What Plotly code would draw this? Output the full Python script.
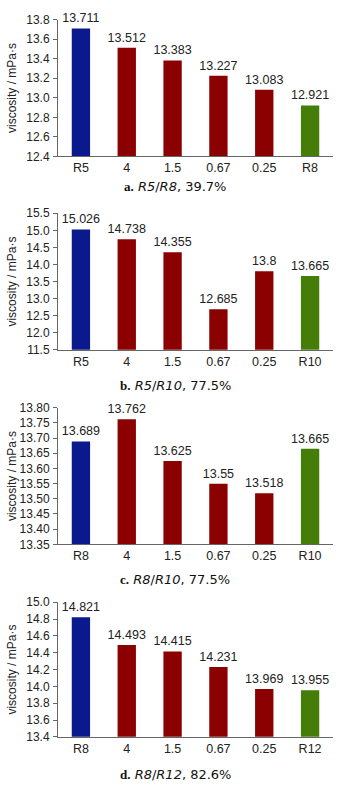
import plotly.graph_objects as go

# ---- data ----
cats_a = ["R5", "4", "1.5", "0.67", "0.25", "R8"]
vals_a = [13.711, 13.512, 13.383, 13.227, 13.083, 12.921]
cats_b = ["R5", "4", "1.5", "0.67", "0.25", "R10"]
vals_b = [15.026, 14.738, 14.355, 12.685, 13.8, 13.665]
cats_c = ["R8", "4", "1.5", "0.67", "0.25", "R10"]
vals_c = [13.689, 13.762, 13.625, 13.55, 13.518, 13.665]
cats_d = ["R8", "4", "1.5", "0.67", "0.25", "R12"]
vals_d = [14.821, 14.493, 14.415, 14.231, 13.969, 13.955]

captions = [
    ("a.", "R5", "R8", "39.7%"),
    ("b.", "R5", "R10", "77.5%"),
    ("c.", "R8", "R10", "77.5%"),
    ("d.", "R8", "R12", "82.6%"),
]
yranges = [(12.4, 13.8, 0.2, ".1f"), (11.5, 15.5, 0.5, ".1f"),
           (13.35, 13.80, 0.05, ".2f"), (13.4, 15.0, 0.2, ".1f")]

BLUE = "#0a1a8c"
RED = "#8b0000"
GREEN = "#447d08"
colors = [BLUE, RED, RED, RED, RED, GREEN]

W, H = 350, 791
# pixel layout of each panel: (top, bottom) of plot area, caption y
panels = [(13, 152, 183), (210, 349, 385), (408, 547, 583), (606, 743, 781)]
x0, x1 = 58, 333

FONT = "Liberation Sans, Arial"

fig = go.Figure()
layout = dict(
    width=W, height=H, margin=dict(l=0, r=0, t=0, b=0),
    paper_bgcolor="white", plot_bgcolor="white", showlegend=False,
    font=dict(family=FONT, size=13, color="#222"),
)
annotations = []
datasets = [(cats_a, vals_a), (cats_b, vals_b), (cats_c, vals_c), (cats_d, vals_d)]
for i, ((cats, vals), (top, bot, capy), (lo, hi, dt, fmt), cap) in enumerate(
        zip(datasets, panels, yranges, captions)):
    n = "" if i == 0 else str(i + 1)
    fig.add_trace(go.Bar(
        x=cats, y=vals, marker_color=colors, marker_line_width=0, width=0.4,
        text=[str(v) for v in vals], textposition="outside", cliponaxis=False,
        constraintext="none", textfont=dict(family=FONT, size=12.5, color="#222"),
        xaxis="x" + n, yaxis="y" + n, hoverinfo="skip",
    ))
    layout["xaxis" + n] = dict(
        domain=[x0 / W, x1 / W], anchor="y" + n, showline=True, linecolor="#666",
        linewidth=1, ticks="", showgrid=False, tickfont=dict(size=12.5, family=FONT),
        fixedrange=True,
    )
    layout["yaxis" + n] = dict(
        domain=[1 - bot / H, 1 - top / H], anchor="x" + n, range=[lo, hi],
        dtick=dt, tick0=lo, tickformat=fmt, showline=True, linecolor="#666",
        linewidth=1, ticks="outside", ticklen=4, tickcolor="#666", showgrid=False,
        zeroline=False, tickfont=dict(size=12, family=FONT), ticklabelstandoff=1,
    )
    annotations.append(dict(
        text="viscosity / mPa·s", textangle=-90, xref="paper", yref="paper",
        x=12 / W, y=1 - (top + bot) / 2 / H, showarrow=False,
        font=dict(size=12, family=FONT, color="#222"), xanchor="center", yanchor="middle",
    ))
    letter, r1, r2, pct = cap
    annotations.append(dict(
        text=(f"<span style='font-family:Liberation Serif;font-weight:bold'>{letter}</span> "
              f"<i>{r1}</i>/<i>{r2}</i>, {pct}"),
        xref="paper", yref="paper", x=175 / W, y=1 - capy / H, showarrow=False,
        font=dict(size=13, family="DejaVu Sans", color="#111"),
        xanchor="center", yanchor="middle",
    ))

layout["annotations"] = annotations
fig.update_layout(**layout)
fig.write_html("out.html")
